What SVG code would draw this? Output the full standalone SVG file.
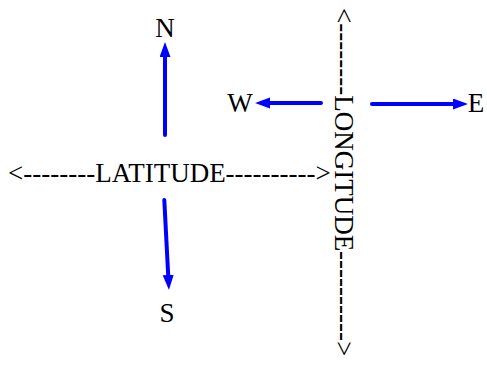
<svg xmlns="http://www.w3.org/2000/svg" width="487" height="365" viewBox="0 0 487 365">
<style>
  .t { font-family: "Liberation Serif", "Times New Roman", serif; font-size: 27px; fill: #000; }
  .arr { stroke: #0000ff; stroke-width: 4; stroke-linecap: round; fill: none; marker-end: url(#head); }
</style>
<defs>
  <marker id="head" markerUnits="userSpaceOnUse" markerWidth="17" markerHeight="12" refX="6" refY="5.5" orient="auto" viewBox="0 0 17 12">
    <path d="M0,0 L15,5.5 L0,11 z" fill="#0000ff"/>
  </marker>
</defs>
<rect width="487" height="365" fill="#fff"/>
<g id="connectors">
  <line class="arr" x1="165" y1="135" x2="165" y2="51"/>
  <line class="arr" x1="164.3" y1="200" x2="168.5" y2="281"/>
  <line class="arr" x1="321" y1="103" x2="264" y2="103"/>
  <line class="arr" x1="372" y1="104" x2="459" y2="104"/>
</g>
<g id="latitude"><text class="t" x="8" y="182">&lt;--------LATITUDE----------&gt;</text></g>
<g id="longitude"><text class="t" x="8" y="-335" transform="rotate(90)">&lt;--------LONGITUDE----------&gt;</text></g>
<g id="north"><text class="t" x="165" y="37" text-anchor="middle">N</text></g>
<g id="south"><text class="t" x="167" y="322" text-anchor="middle">S</text></g>
<g id="west"><text class="t" x="240" y="112" text-anchor="middle">W</text></g>
<g id="east"><text class="t" x="476" y="112" text-anchor="middle">E</text></g>
</svg>
